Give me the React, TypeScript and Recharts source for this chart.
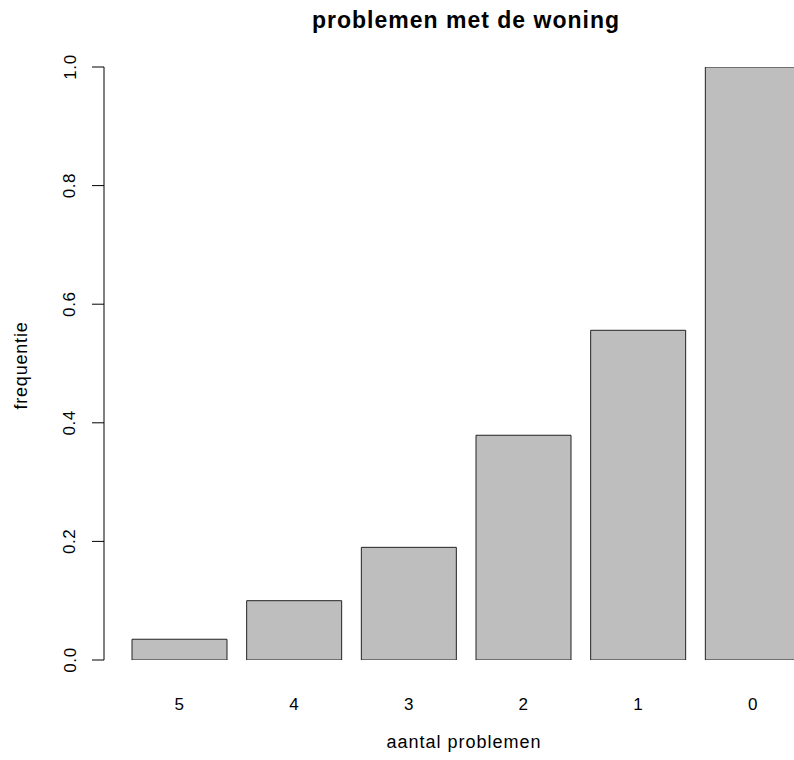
import React from 'react';
import { BarChart, Bar, XAxis, YAxis } from 'recharts';

const categories = ['5', '4', '3', '2', '1', '0'];
const frequencies = [0.035, 0.1, 0.19, 0.379, 0.556, 1.0];
const yTicks = [0, 0.2, 0.4, 0.6, 0.8, 1.0];
const titleText = 'problemen met de woning';
const xTitle = 'aantal problemen';
const yTitle = 'frequentie';

const data = categories.map((c, i) => ({ cat: c, value: frequencies[i] }));

const FONT = '"Liberation Sans", Arial, Helvetica, sans-serif';

const YTick = (props: any) => {
  const { x, y, payload } = props;
  const tx = x - 20;
  return (
    <text
      x={tx}
      y={y}
      transform={`rotate(-90, ${tx}, ${y})`}
      textAnchor="middle"
      dominantBaseline="central"
      fontSize={17}
      fontFamily={FONT}
      fill="#000"
      letterSpacing={0.6}
    >
      {payload.value.toFixed(1)}
    </text>
  );
};

const XTick = (props: any) => {
  const { x, y, payload } = props;
  return (
    <text x={x} y={y + 50} textAnchor="middle" fontSize={17} fontFamily={FONT} fill="#000">
      {payload.value}
    </text>
  );
};

const YLabel = (props: any) => {
  const vb = props.viewBox || {};
  const cx = 21;
  const cy = vb.y + vb.height / 2 + 2;
  return (
    <text
      x={cx}
      y={cy}
      transform={`rotate(-90, ${cx}, ${cy})`}
      textAnchor="middle"
      dominantBaseline="central"
      fontSize={18}
      fontFamily={FONT}
      fill="#000"
      letterSpacing={0.8}
    >
      {yTitle}
    </text>
  );
};

const XLabel = (props: any) => {
  const vb = props.viewBox || {};
  return (
    <text
      x={464}
      y={748}
      textAnchor="middle"
      fontSize={18}
      fontFamily={FONT}
      fill="#000"
      letterSpacing={1}
    >
      {xTitle}
    </text>
  );
};

export default function App() {
  return (
    <div
      style={{
        position: 'absolute',
        left: 0,
        top: 0,
        width: 794,
        height: 760,
        overflow: 'hidden',
        background: '#fff',
      }}
    >
      <BarChart
        width={830}
        height={760}
        data={data}
        margin={{ top: 67, right: 6, bottom: 0, left: 0 }}
        barSize={95}
      >
        <XAxis
          dataKey="cat"
          type="category"
          height={100}
          axisLine={false}
          tickLine={false}
          tickSize={0}
          tickMargin={0}
          padding={{ left: 18, right: 14 }}
          tick={<XTick />}
          interval={0}
          label={<XLabel />}
        />
        <YAxis
          type="number"
          domain={[0, 1]}
          ticks={yTicks}
          width={104}
          tickSize={12}
          tickMargin={2}
          axisLine={{ stroke: '#000', strokeWidth: 1 }}
          tickLine={{ stroke: '#000', strokeWidth: 1 }}
          tick={<YTick />}
          interval={0}
          allowDataOverflow
          label={<YLabel />}
        />
        <Bar
          dataKey="value"
          fill="#bebebe"
          stroke="#222"
          strokeWidth={1}
          isAnimationActive={false}
        />
      </BarChart>
      <svg
        width={794}
        height={60}
        style={{ position: 'absolute', left: 0, top: 0, pointerEvents: 'none' }}
      >
        <text
          x={466}
          y={28}
          textAnchor="middle"
          fontSize={23}
          fontWeight="bold"
          fontFamily={FONT}
          fill="#000"
          letterSpacing={1}
        >
          {titleText}
        </text>
      </svg>
    </div>
  );
}
